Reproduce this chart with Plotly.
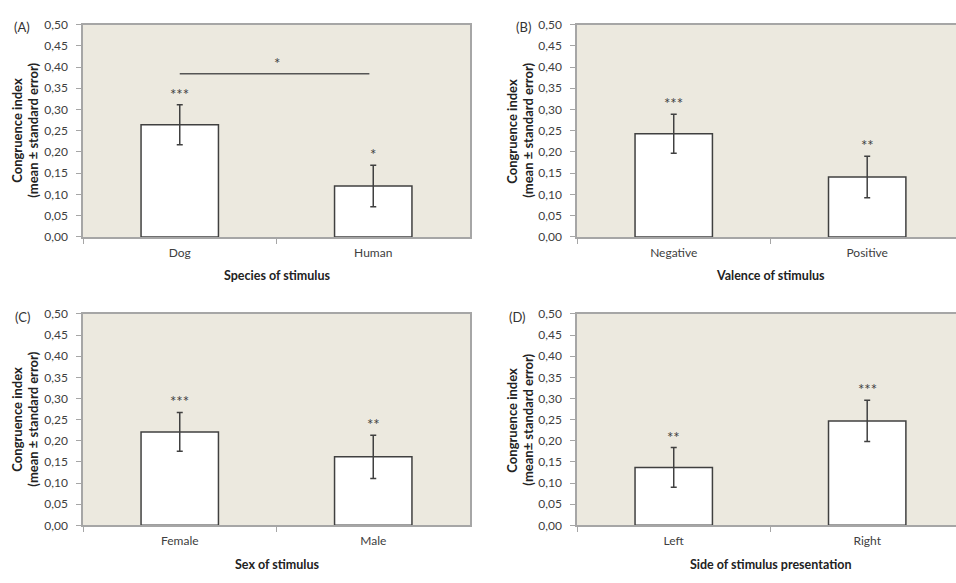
import plotly.graph_objects as go

# ---- data ----
cats_a = ["Dog", "Human"]
means_a = [0.264, 0.120]
se_a = [0.047, 0.049]
stars_a = ["***", "*"]

cats_b = ["Negative", "Positive"]
means_b = [0.243, 0.141]
se_b = [0.046, 0.049]
stars_b = ["***", "**"]

cats_c = ["Female", "Male"]
means_c = [0.221, 0.162]
se_c = [0.046, 0.051]
stars_c = ["***", "**"]

cats_d = ["Left", "Right"]
means_d = [0.137, 0.247]
se_d = [0.047, 0.049]
stars_d = ["**", "***"]

xtitles = ["Species of stimulus", "Valence of stimulus", "Sex of stimulus",
           "Side of stimulus presentation"]
panel_labels = ["(A)", "(B)", "(C)", "(D)"]
ytitle1 = "Congruence index"
ytitle2 = ["(mean ± standard error)", "(mean ± standard error)",
           "(mean ± standard error)", "(mean± standard error)"]
sig_a_y = 0.384
sig_a_text = "*"

W, H = 956, 583
FONT = "Lato"
BG = "#ECE9DF"
EDGE = "#404040"
AXIS = "#A6A6A6"

def px(x):
    return x / W

def py(y):
    return 1 - y / H

panels = [
    (cats_a, means_a, se_a, stars_a),
    (cats_b, means_b, se_b, stars_b),
    (cats_c, means_c, se_c, stars_c),
    (cats_d, means_d, se_d, stars_d),
]

geo = [
    dict(l=83, r=470, t=17, b=235, xr=1.5, yl1=17, yl2=33, lab=(22, 20)),
    dict(l=577, r=956, t=17, b=235, xr=1.459, yl1=512, yl2=528, lab=(523, 20)),
    dict(l=83, r=470, t=314, b=531, xr=1.5, yl1=17, yl2=33, lab=(22, 317)),
    dict(l=577, r=956, t=314, b=531, xr=1.459, yl1=512, yl2=528, lab=(517, 317)),
]

fig = go.Figure()
annotations = []
shapes = []

for i, ((cats, means, se, stars), g) in enumerate(zip(panels, geo)):
    n = "" if i == 0 else str(i + 1)
    xa = "x" + n
    ya = "y" + n
    fig.add_trace(go.Bar(
        x=cats, y=means, xaxis=xa, yaxis=ya, width=0.4,
        marker=dict(color="white", line=dict(color=EDGE, width=1.5)),
        error_y=dict(type="data", array=se, visible=True, color=EDGE,
                     thickness=1.5, width=3),
        showlegend=False, hoverinfo="skip",
    ))
    xaxis_cfg = dict(
        domain=[px(g["l"]), px(g["r"])], anchor=ya, type="category",
        range=[-0.5, g["xr"]], tickson="boundaries", ticks="outside",
        ticklen=5, tickcolor=AXIS, showline=True, linecolor=AXIS, linewidth=1.5,
        mirror=True, showgrid=False, zeroline=False, ticklabelstandoff=4,
        tickfont=dict(family=FONT, size=12, color="#404040"),
    )
    yaxis_cfg = dict(
        domain=[py(g["b"]), py(g["t"])], anchor=xa, range=[0, 0.5], dtick=0.05,
        tick0=0, tickformat=".2f", ticks="outside", ticklen=5, tickcolor=AXIS,
        showline=True, linecolor=AXIS, linewidth=1.5, ticklabelstandoff=6,
        mirror=(i in (0, 2)), showgrid=False, zeroline=False,
        tickfont=dict(family=FONT, size=12, color="#404040"),
    )
    fig.layout["xaxis" + n] = xaxis_cfg
    fig.layout["yaxis" + n] = yaxis_cfg
    shapes.append(dict(type="rect", xref=xa + " domain", yref=ya + " domain",
                       x0=0, x1=1, y0=0, y1=1, fillcolor=BG, line_width=0,
                       layer="below"))
    for c, m, s, st in zip(cats, means, se, stars):
        annotations.append(dict(x=c, y=m + s, xref=xa, yref=ya, text=st,
                                showarrow=False, xanchor="center",
                                yanchor="bottom", yshift=0,
                                font=dict(family=FONT, size=15, color="#404040")))
    cx = g["l"] + (g["r"] - g["l"]) / (g["xr"] + 0.5)
    annotations.append(dict(x=px(cx), y=py(g["b"] + 40), xref="paper",
                            yref="paper", text="<b>" + xtitles[i] + "</b>",
                            showarrow=False, xanchor="center", yanchor="middle",
                            font=dict(family=FONT, size=12.5, color="#222222")))
    cy = (g["t"] + g["b"]) / 2
    annotations.append(dict(x=px(g["yl1"]), y=py(cy), xref="paper", yref="paper",
                            text="<b>" + ytitle1 + "</b>", textangle=-90,
                            showarrow=False, xanchor="center", yanchor="middle",
                            font=dict(family=FONT, size=13, color="#222222")))
    annotations.append(dict(x=px(g["yl2"]), y=py(cy), xref="paper", yref="paper",
                            text="<b>" + ytitle2[i] + "</b>", textangle=-90,
                            showarrow=False, xanchor="center", yanchor="middle",
                            font=dict(family=FONT, size=13, color="#222222")))
    annotations.append(dict(x=px(g["lab"][0]), y=py(g["lab"][1]), xref="paper",
                            yref="paper", text=panel_labels[i], showarrow=False,
                            xanchor="center", yanchor="middle",
                            font=dict(family=FONT, size=13, color="#333333")))

shapes.append(dict(type="line", xref="x", yref="y", x0=0, x1=0.98,
                   y0=sig_a_y, y1=sig_a_y, line=dict(color="#555555", width=1.5)))
annotations.append(dict(x=0.5, y=sig_a_y, xref="x", yref="y", text=sig_a_text,
                        showarrow=False, xanchor="center", yanchor="bottom",
                        yshift=0,
                        font=dict(family=FONT, size=15, color="#404040")))

fig.update_layout(
    width=W, height=H, margin=dict(l=0, r=0, t=0, b=0, pad=0),
    paper_bgcolor="white", plot_bgcolor="rgba(0,0,0,0)",
    separators=",.", annotations=annotations, shapes=shapes,
    font=dict(family=FONT),
)

fig.write_html(
    "out.html",
    config={"displayModeBar": False},
    post_script="document.body.style.margin='0px';"
                "document.body.style.padding='0px';"
                "document.documentElement.style.overflow='hidden';",
)
